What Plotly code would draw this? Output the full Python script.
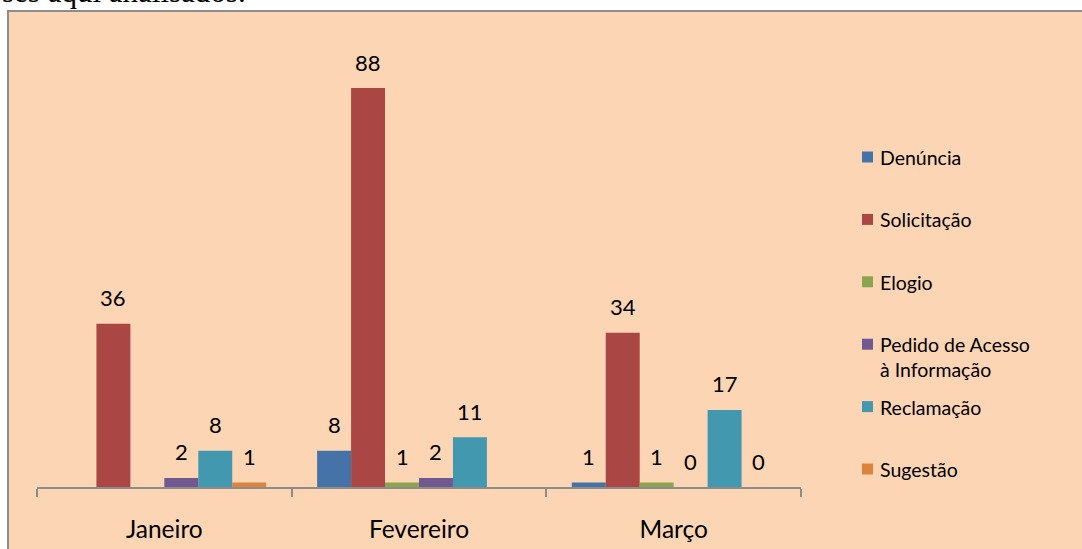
import plotly.graph_objects as go

months = ["Janeiro", "Fevereiro", "Março"]
series_names = ["Denúncia", "Solicitação", "Elogio", "Pedido de Acesso<br>à Informação", "Reclamação", "Sugestão"]
denuncia = [None, 8, 1]
solicitacao = [36, 88, 34]
elogio = [None, 1, 1]
pedido = [2, 2, 0]
reclamacao = [8, 11, 17]
sugestao = [1, None, 0]
colors = ["#4572A7", "#AA4643", "#89A54E", "#71588F", "#4198AF", "#DB843D"]

all_values = [denuncia, solicitacao, elogio, pedido, reclamacao, sugestao]

W, H = 1082, 549
FONT = "Lato"

def px_x(x):
    return x / W

def px_y(y):
    return (H - y) / H

fig = go.Figure()
for name, vals, col in zip(series_names, all_values, colors):
    fig.add_trace(go.Bar(
        x=months, y=vals, name=name.replace("<br>", " "),
        marker=dict(color=col, line=dict(width=0)),
        showlegend=False, hoverinfo="skip",
    ))

n = len(all_values)
group_w = 0.8
annotations = []
for j, vals in enumerate(all_values):
    off = -group_w / 2 + (j + 0.5) * group_w / n
    for i, v in enumerate(vals):
        if v is None:
            continue
        annotations.append(dict(
            x=i + off, y=v, xref="x", yref="y", text=str(v), showarrow=False,
            yanchor="middle", yshift=26, font=dict(family=FONT, size=22, color="black"),
        ))

# manual legend
shapes = [dict(type="rect", xref="paper", yref="paper", layer="below",
               x0=px_x(8), x1=px_x(1090), y0=px_y(11), y1=px_y(560),
               fillcolor="#FCD5B5", line=dict(color="#8C8C8C", width=2))]
leg_y0, leg_step = 157, 62.4
for j, (name, col) in enumerate(zip(series_names, colors)):
    cy = leg_y0 + j * leg_step
    shapes.append(dict(type="rect", xref="paper", yref="paper",
                       x0=px_x(862), x1=px_x(873), y0=px_y(cy - 5.5), y1=px_y(cy + 5.5),
                       fillcolor=col, line=dict(width=0)))
    annotations.append(dict(x=px_x(878), y=px_y(cy - 13), xref="paper", yref="paper",
                            text=name, showarrow=False, xanchor="left", yanchor="top", align="left",
                            font=dict(family=FONT, size=19.5, color="black")))

annotations.append(dict(x=0, y=(H + 8) / H, xref="paper", yref="paper", text="ses aqui analisados.",
                        showarrow=False, xanchor="left", yanchor="middle",
                        font=dict(family="Liberation Serif", size=31, color="black")))

fig.update_layout(
    width=W, height=H, margin=dict(l=0, r=0, t=0, b=0),
    paper_bgcolor="white", plot_bgcolor="rgba(0,0,0,0)",
    barmode="group", bargap=0.2, bargroupgap=0,
    annotations=annotations, shapes=shapes,
    xaxis=dict(domain=[px_x(37), px_x(801)], range=[-0.5, 2.5], showline=True, linecolor="#8C8C8C",
               linewidth=2, ticks="outside", tickson="boundaries", ticklen=8, tickcolor="#8C8C8C",
               tickwidth=2, showgrid=False, ticklabelstandoff=20,
               tickfont=dict(family=FONT, size=24.5, color="black"), fixedrange=True),
    yaxis=dict(domain=[px_y(487), px_y(33.6)], range=[0, 100], visible=False, showgrid=False,
               fixedrange=True),
)

fig.write_html("out.html", config={"displayModeBar": False},
               post_script="document.body.style.margin='0px';document.body.style.overflow='hidden';")
